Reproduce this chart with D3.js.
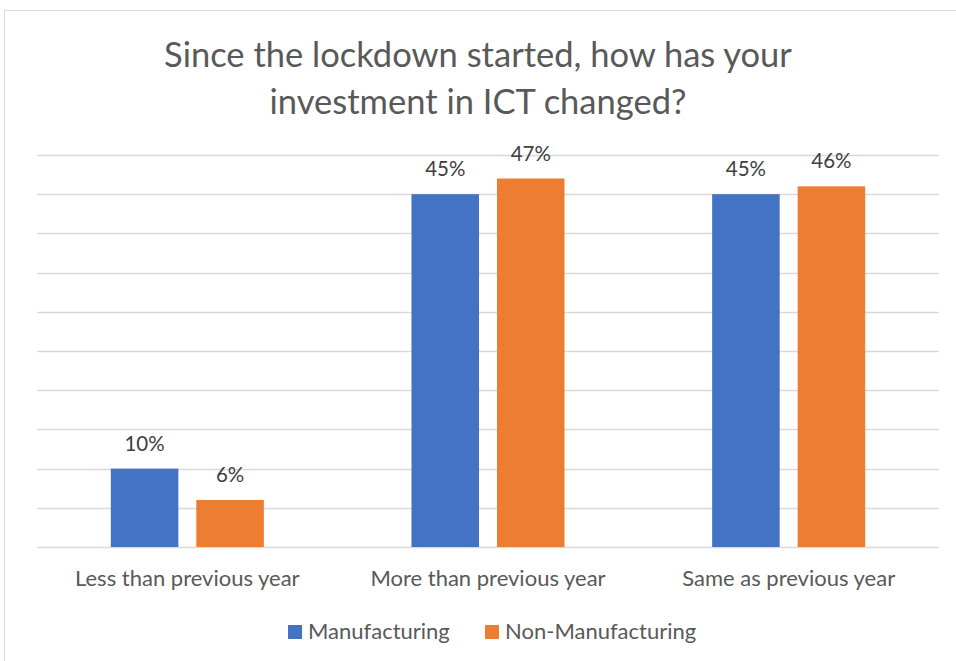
<!DOCTYPE html>
<html>
<head>
<meta charset="utf-8">
<script src="https://cdn.jsdelivr.net/npm/d3@7"></script>
<style>
  html, body { margin: 0; padding: 0; background: #fff; }
  svg { display: block; }
</style>
</head>
<body>
<svg id="chart" width="956" height="661"></svg>
<script>
// Survey responses: change in ICT investment since lockdown
const categories = ["Less than previous year", "More than previous year", "Same as previous year"];
const seriesNames = ["Manufacturing", "Non-Manufacturing"];
const manufacturing = [10, 45, 45];
const nonManufacturing = [6, 47, 46];
const yTicks = [0, 5, 10, 15, 20, 25, 30, 35, 40, 45, 50];
const titleLines = ["Since the lockdown started, how has your", "investment in ICT changed?"];

const colors = ["#4472C4", "#ED7D31"];
const font = "Lato, 'Open Sans', sans-serif";

const svg = d3.select("#chart");
const W = 956, H = 661;

// chart frame
svg.append("rect")
  .attr("x", 4.5).attr("y", 10.5)
  .attr("width", W + 10).attr("height", H + 10)
  .attr("fill", "#fff").attr("stroke", "#d9d9d9").attr("stroke-width", 1);

const plot = { left: 37, right: 939, top: 155, bottom: 547 };

const x = d3.scaleBand().domain(categories).range([plot.left, plot.right]).paddingInner(0.491).paddingOuter(0.2455);
const xs = d3.scaleBand().domain(seriesNames).range([0, x.bandwidth()]).paddingInner(0.21);
const y = d3.scaleLinear().domain([0, 50]).range([plot.bottom, plot.top]);

// gridlines
svg.append("g").selectAll("line").data(yTicks).join("line")
  .attr("x1", plot.left).attr("x2", plot.right)
  .attr("y1", d => Math.round(y(d)) + 0.5).attr("y2", d => Math.round(y(d)) + 0.5)
  .attr("stroke", "#d9d9d9").attr("stroke-width", 1.3);

// title
svg.append("g").selectAll("text").data(titleLines).join("text")
  .attr("x", 478).attr("y", (d, i) => 67 + i * 47)
  .attr("text-anchor", "middle")
  .attr("font-family", font).attr("font-size", 34.5)
  .attr("fill", "#595959")
  .text(d => d);

const rows = categories.map((c, i) => ({ cat: c, values: [manufacturing[i], nonManufacturing[i]] }));

const groups = svg.append("g").selectAll("g").data(rows).join("g")
  .attr("transform", d => `translate(${x(d.cat)},0)`);

groups.selectAll("rect").data(d => d.values.map((v, j) => ({ v, s: seriesNames[j], j }))).join("rect")
  .attr("x", d => xs(d.s)).attr("width", xs.bandwidth())
  .attr("y", d => y(d.v)).attr("height", d => y(0) - y(d.v))
  .attr("fill", d => colors[d.j]);

groups.selectAll("text.val").data(d => d.values.map((v, j) => ({ v, s: seriesNames[j], j }))).join("text")
  .attr("class", "val")
  .attr("x", d => xs(d.s) + xs.bandwidth() / 2)
  .attr("y", d => y(d.v) - 18)
  .attr("text-anchor", "middle")
  .attr("font-family", font).attr("font-size", 20.5)
  .attr("fill", "#404040")
  .text(d => d.v + "%");

// category axis labels
svg.append("g").selectAll("text").data(categories).join("text")
  .attr("x", d => x(d) + x.bandwidth() / 2).attr("y", 586)
  .attr("text-anchor", "middle")
  .attr("font-family", font).attr("font-size", 22)
  .attr("fill", "#595959")
  .text(d => d);

// legend
const legend = svg.append("g");
const legendX = [288, 485];
seriesNames.forEach((s, i) => {
  legend.append("rect").attr("x", legendX[i]).attr("y", 625).attr("width", 14).attr("height", 14).attr("fill", colors[i]);
  legend.append("text").attr("x", legendX[i] + 20).attr("y", 639)
    .attr("font-family", font).attr("font-size", 22).attr("fill", "#595959").text(s);
});
</script>
</body>
</html>
